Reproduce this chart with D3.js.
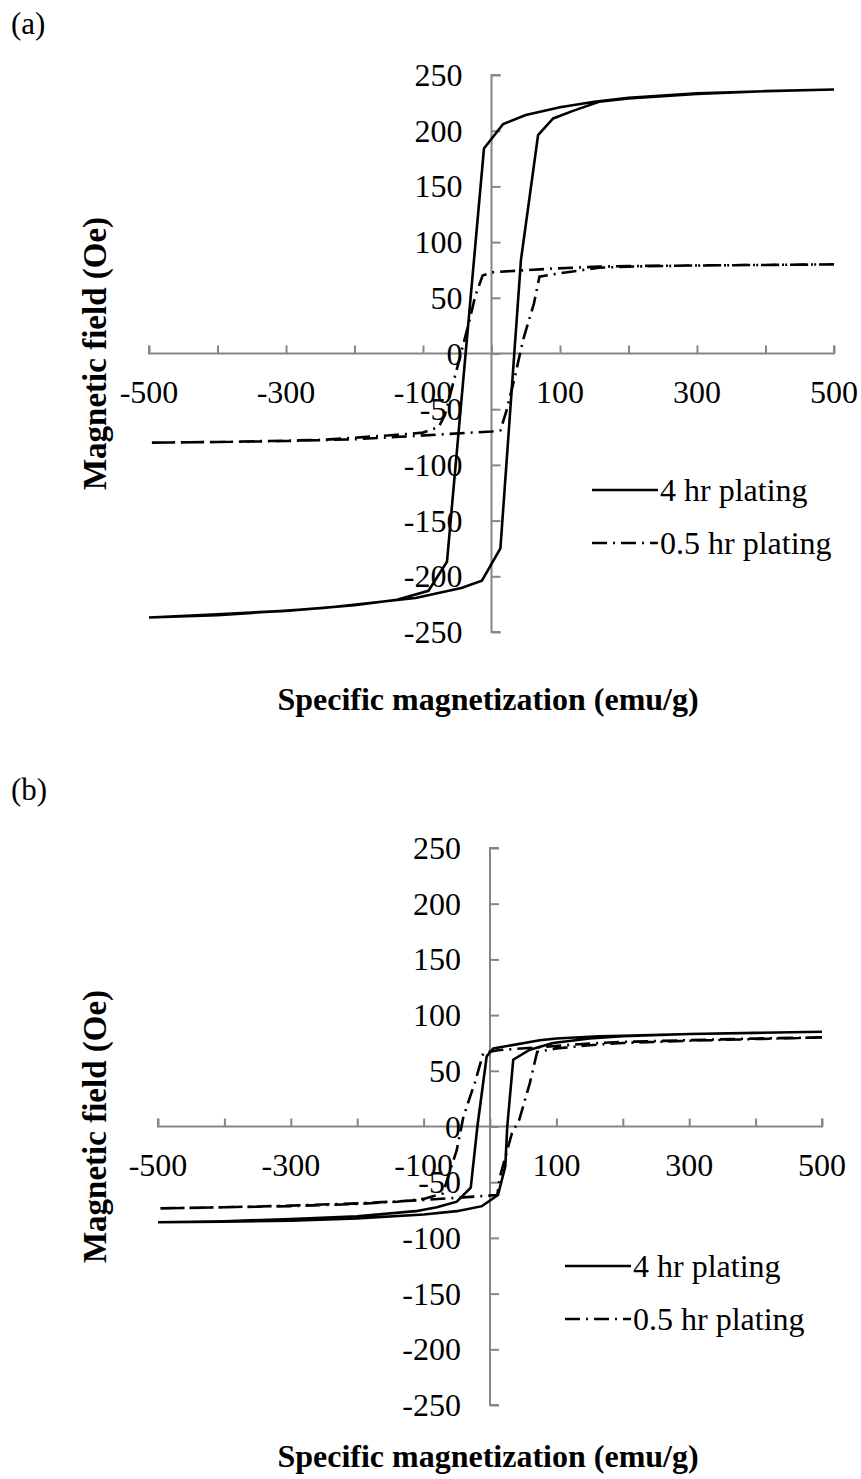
<!DOCTYPE html>
<meta charset="utf-8">
<script src="https://cdn.jsdelivr.net/npm/d3@7"></script>
<style>
  body { margin: 0; background: #fff; }
  text { font-family: "Liberation Serif", "Times New Roman", serif; fill: #000; }
</style>
<div id="my_dataviz"></div>
<script>

// x / y ticks
var xTicks = [-500, -400, -300, -200, -100, 0, 100, 200, 300, 400, 500];
var xTickLabels = [-500, -300, -100, 100, 300, 500];
var yTicks = [-250, -200, -150, -100, -50, 0, 50, 100, 150, 200, 250];

var seriesNames = ["4 hr plating", "0.5 hr plating"];

// panel (a) : 4 hr plating, loop from +500 down to -500 and back
var a4hrX = [500, 400, 300, 200, 150, 100, 50, 17, -11, -65, -92, -138, -200, -300, -400, -500,
             -400, -245, -111, -44, -14, 13, 43, 68, 90, 120, 157, 200, 300, 400, 500];
var a4hrY = [237, 235.5, 233.5, 229.5, 226, 221, 214, 206, 184, -187, -213, -221, -226, -231, -234, -237,
             -235, -228.5, -219.5, -210.5, -204, -175, 84, 196, 211, 218, 226, 229, 233, 235.5, 237];

// panel (a) : 0.5 hr plating
var a05hrX = [500, 400, 300, 200, 157, 83, 3, -13, -24, -32, -51, -68, -77, -100, -138, -245, -400, -500,
              -400, -300, -200, -140, -70, 0, 13, 22, 33, 46, 62, 70, 100, 157, 200, 300, 400, 500];
var a05hrY = [80, 79.5, 79, 78.5, 78, 76, 73, 70, 51, 30, -15, -55, -66, -71, -73, -77.5, -79.5, -80,
              -79.5, -78.5, -77, -75, -72.5, -70, -69, -51, -24, 12, 45, 69, 72, 77, 78, 79, 79.5, 80];

// panel (b) : 4 hr plating
var b4hrX = [500, 400, 300, 200, 164, 100, 75, 5, -5, -19, -29, -50, -80, -112, -200, -300, -400, -500,
             -400, -300, -200, -100, -50, -12, 12, 23, 26, 35, 60, 95, 150, 200, 300, 400, 500];
var b4hrY = [85, 84, 83, 81.5, 81, 79, 77.5, 70, 63, 0, -55, -67.5, -72.5, -76, -80.5, -83, -85, -86,
             -85.5, -84.5, -82.5, -79, -76, -71.5, -61.5, -36, 0, 60, 69, 75, 79, 81, 83, 84, 85];

// panel (b) : 0.5 hr plating
var b05hrX = [500, 400, 300, 200, 150, 81, 12, -10, -23, -40, -50, -71, -100, -140, -200, -300, -400, -500,
              -400, -300, -200, -100, -50, 11, 15, 33, 44, 60, 71, 100, 150, 200, 300, 400, 500];
var b05hrY = [80, 79, 77.5, 76, 74.5, 71.5, 68.5, 66, 39, 9, -21, -60, -65, -67.5, -69.5, -71.5, -72.5, -73.5,
              -72.5, -71, -69, -66, -64, -61.5, -45, -6, 6, 39, 67, 70, 73, 75, 77, 78.5, 80];

function zip(xs, ys) { return xs.map(function(d, i) { return [d, ys[i]]; }); }

var svg = d3.select("#my_dataviz")
  .append("svg")
    .attr("width", 861)
    .attr("height", 1479);

var axisColor = "#868686";
var dashDot = "15,6,2,6";
var fs = "32px";

function drawPanel(p) {
  var x = d3.scaleLinear().domain([-500, 500]).range([p.left, p.right]);
  var y = d3.scaleLinear().domain([-250, 250]).range([p.bottom, p.top]);
  var g = svg.append("g");

  // panel letter
  g.append("text")
    .attr("x", 11).attr("y", p.letterY)
    .style("font-size", "31px")
    .text(p.letter);

  // x axis (ticks point upward)
  var xAxis = g.append("g")
    .attr("transform", "translate(0," + y(0) + ")")
    .call(d3.axisTop(x).tickValues(xTicks).tickSize(8).tickFormat(""));
  xAxis.selectAll("path, line").attr("stroke", axisColor).attr("stroke-width", 2);
  xAxis.select(".domain").attr("d", "M" + x(-500) + ",-8V0H" + x(500) + "V-8");

  // y axis (ticks point right)
  var yAxis = g.append("g")
    .attr("transform", "translate(" + x(0) + ",0)")
    .call(d3.axisRight(y).tickValues(yTicks).tickSize(9).tickFormat(""));
  yAxis.selectAll("path, line").attr("stroke", axisColor).attr("stroke-width", 2);
  yAxis.select(".domain").attr("d", "M9," + y(250) + "H0V" + y(-250) + "H9");

  // series
  var line = d3.line().x(function(d) { return x(d[0]); }).y(function(d) { return y(d[1]); });
  g.append("path").datum(p.s05)
    .attr("d", line).attr("fill", "none").attr("stroke", "#000")
    .attr("stroke-width", 2.6).attr("stroke-dasharray", dashDot);
  g.append("path").datum(p.s4)
    .attr("d", line).attr("fill", "none").attr("stroke", "#000")
    .attr("stroke-width", 2.6);

  // tick labels
  g.selectAll(".ylab").data(yTicks).enter().append("text")
    .attr("x", x(0) - 29).attr("y", function(d) { return y(d) + 11; })
    .attr("text-anchor", "end")
    .style("font-size", fs)
    .text(function(d) { return d; });
  g.selectAll(".xlab").data(xTickLabels).enter().append("text")
    .attr("x", function(d) { return x(d); }).attr("y", y(0) + 49)
    .attr("text-anchor", "middle")
    .style("font-size", fs)
    .text(function(d) { return d; });

  // axis titles
  g.append("text")
    .attr("transform", "translate(" + 106 + "," + ((p.top + p.bottom) / 2) + ") rotate(-90)")
    .attr("text-anchor", "middle")
    .style("font-size", "33px").style("font-weight", "bold")
    .text("Magnetic field (Oe)");
  g.append("text")
    .attr("x", 488).attr("y", p.titleY)
    .attr("text-anchor", "middle")
    .style("font-size", fs).style("font-weight", "bold")
    .text("Specific magnetization (emu/g)");

  // legend
  var leg = g.selectAll(".leg").data(seriesNames).enter().append("g")
    .attr("transform", function(d, i) { return "translate(" + p.legX + "," + (p.legY + i * 53) + ")"; });
  leg.append("line")
    .attr("x1", 0).attr("x2", 66).attr("y1", 0).attr("y2", 0)
    .attr("stroke", "#000").attr("stroke-width", 2.6)
    .attr("stroke-dasharray", function(d, i) { return i ? dashDot : null; });
  leg.append("text")
    .attr("x", 68).attr("y", 11)
    .style("font-size", fs)
    .text(function(d) { return d; });
}

drawPanel({letter: "(a)", letterY: 34, left: 149, right: 834, top: 75, bottom: 632, titleY: 710,
           s4: zip(a4hrX, a4hrY), s05: zip(a05hrX, a05hrY), legX: 592, legY: 490});
drawPanel({letter: "(b)", letterY: 800, left: 158, right: 822, top: 848, bottom: 1405, titleY: 1467,
           s4: zip(b4hrX, b4hrY), s05: zip(b05hrX, b05hrY), legX: 565, legY: 1266});

</script>
